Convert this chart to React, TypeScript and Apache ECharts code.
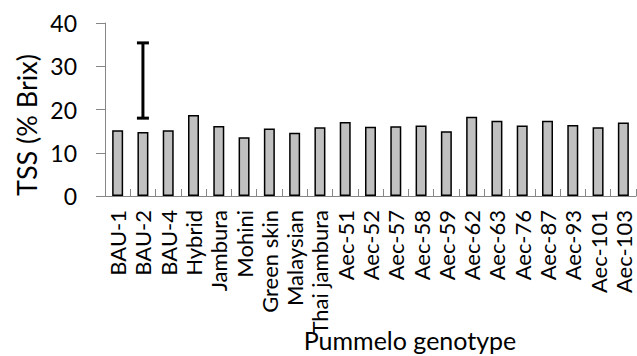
import React, { useEffect, useRef } from "react";
import * as echarts from "echarts";

const categories = [
  "BAU-1", "BAU-2", "BAU-4", "Hybrid", "Jambura", "Mohini", "Green skin",
  "Malaysian", "Thai jambura", "Aec-51", "Aec-52", "Aec-57", "Aec-58",
  "Aec-59", "Aec-62", "Aec-63", "Aec-76", "Aec-87", "Aec-93", "Aec-101", "Aec-103",
];
const tssValues = [
  15.2, 14.8, 15.2, 18.7, 16.2, 13.6, 15.6, 14.6, 15.9, 17.1, 16.0, 16.1,
  16.3, 15.0, 18.3, 17.4, 16.3, 17.4, 16.4, 15.9, 17.0,
];
// standalone error bar (LSD) drawn at BAU-2: [category index, low, high]
const errorBar = [[1, 18.0, 35.4]];
const yTicks = { min: 0, max: 40, interval: 10 };
const yName = "TSS (% Brix)";
const xName = "Pummelo genotype";

const FONT = "Lato";

export default function App() {
  const ref = useRef<HTMLDivElement>(null);
  useEffect(() => {
    if (!ref.current) return;
    const chart = echarts.init(ref.current, undefined, { renderer: "svg" });
    chart.setOption({
      animation: false,
      grid: { left: 105, right: 1, top: 23, bottom: 160, containLabel: false },
      xAxis: {
        type: "category",
        data: categories,
        boundaryGap: true,
        axisLine: { show: true, lineStyle: { color: "#868686", width: 1 } },
        axisTick: { show: true, inside: true, length: 7, lineStyle: { color: "#868686" } },
        axisLabel: {
          rotate: 90,
          interval: 0,
          margin: 14,
          fontSize: 22,
          fontFamily: FONT,
          color: "#000",
        },
        splitLine: { show: false },
      },
      yAxis: {
        type: "value",
        min: yTicks.min,
        max: yTicks.max,
        interval: yTicks.interval,
        axisLine: { show: true, lineStyle: { color: "#868686", width: 1 } },
        axisTick: { show: true, inside: false, length: 9, lineStyle: { color: "#868686" } },
        axisLabel: { fontSize: 23, fontFamily: FONT, color: "#000", margin: 28 },
        splitLine: { show: false },
      },
      series: [
        {
          type: "bar",
          data: tssValues,
          barWidth: 11,
          itemStyle: { color: "#c0c0c0", borderColor: "#000", borderWidth: 1.5 },
        },
        {
          type: "custom",
          data: errorBar,
          renderItem: (params: any, api: any) => {
            const x = api.value(0);
            const lo = api.coord([x, api.value(1)]);
            const hi = api.coord([x, api.value(2)]);
            const cap = 6;
            const style = { stroke: "#000", lineWidth: 3 };
            return {
              type: "group",
              children: [
                { type: "line", shape: { x1: lo[0], y1: lo[1], x2: hi[0], y2: hi[1] }, style },
                { type: "line", shape: { x1: lo[0] - cap, y1: lo[1], x2: lo[0] + cap, y2: lo[1] }, style },
                { type: "line", shape: { x1: hi[0] - cap, y1: hi[1], x2: hi[0] + cap, y2: hi[1] }, style },
              ],
            };
          },
          z: 5,
        },
      ],
      graphic: [
        {
          type: "text",
          x: 26,
          y: 125,
          rotation: Math.PI / 2,
          style: {
            text: yName,
            fontSize: 27,
            fontFamily: FONT,
            fill: "#000",
            align: "center",
            verticalAlign: "middle",
          },
        },
        {
          type: "text",
          x: 410,
          y: 340,
          style: {
            text: xName,
            fontSize: 25,
            fontFamily: FONT,
            fill: "#000",
            align: "center",
            verticalAlign: "middle",
          },
        },
      ],
    });
    return () => chart.dispose();
  }, []);
  return <div ref={ref} style={{ width: 637, height: 356, position: "absolute", left: 0, top: 0 }} />;
}
